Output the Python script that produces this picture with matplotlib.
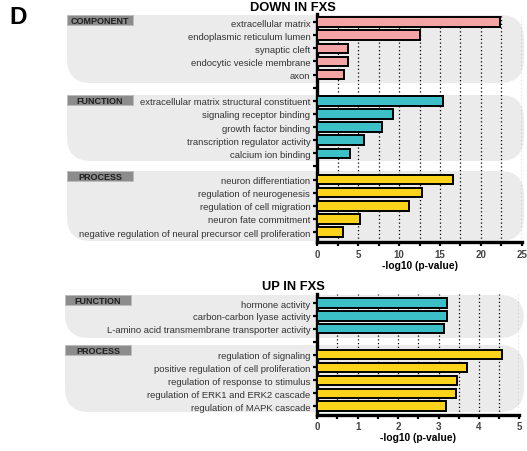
import matplotlib
matplotlib.use('Agg')
import matplotlib.pyplot as plt
from matplotlib.patches import FancyBboxPatch, Rectangle
import numpy as np

plt.rcParams['font.family'] = ['Liberation Sans', 'DejaVu Sans']

# GO terms down-regulated in FXS
down_component = ['extracellular matrix', 'endoplasmic reticulum lumen', 'synaptic cleft',
                  'endocytic vesicle membrane', 'axon']
down_component_vals = [22.3, 12.5, 3.8, 3.7, 3.3]
down_function = ['extracellular matrix structural constituent', 'signaling receptor binding',
                 'growth factor binding', 'transcription regulator activity', 'calcium ion binding']
down_function_vals = [15.4, 9.2, 7.9, 5.7, 4.0]
down_process = ['neuron differentiation', 'regulation of neurogenesis', 'regulation of cell migration',
                'neuron fate commitment', 'negative regulation of neural precursor cell proliferation']
down_process_vals = [16.6, 12.8, 11.2, 5.2, 3.2]

# GO terms up-regulated in FXS
up_function = ['hormone activity', 'carbon-carbon lyase activity',
               'L-amino acid transmembrane transporter activity']
up_function_vals = [3.22, 3.22, 3.14]
up_process = ['regulation of signaling', 'positive regulation of cell proliferation',
              'regulation of response to stimulus', 'regulation of ERK1 and ERK2 cascade',
              'regulation of MAPK cascade']
up_process_vals = [4.56, 3.70, 3.45, 3.43, 3.18]

PINK = '#f4a4a4'
TEAL = '#3cbfc6'
YELLOW = '#fcd31b'
BG = '#ebebeb'

W, H = 527, 452
fig = plt.figure(figsize=(W / 100, H / 100), dpi=100)

# pixel-space canvas for the grey group bands and headers
bg = fig.add_axes([0, 0, 1, 1], zorder=0)
bg.set_xlim(0, W)
bg.set_ylim(H, 0)
bg.axis('off')


def band(y0, y1, x0=67, x1=524, r=24):
    bg.add_patch(FancyBboxPatch((x0, y0), x1 - x0, y1 - y0,
                                boxstyle='round,pad=0,rounding_size=%d' % r,
                                fc=BG, ec='none', mutation_aspect=1))
    bg.add_patch(Rectangle((x0, y0), r, r, fc=BG, ec='none'))


def header(x, y, text, w=66):
    bg.add_patch(Rectangle((x, y), w, 10, fc='#8c8c8c', ec='#bdbdbd', lw=0.6, zorder=3))
    bg.text(x + w / 2, y + 5.3, text, ha='center', va='center', fontsize=6.5,
            fontweight='bold', color='#1e1e1e', zorder=4)


band(16, 84)
band(96, 162)
band(172, 242)
band(296, 339, x0=65)
band(346, 413, x0=65)

header(67, 16, 'COMPONENT')
header(67, 96, 'FUNCTION')
header(67, 172, 'PROCESS')
header(65, 296, 'FUNCTION')
header(65, 346, 'PROCESS')

bg.text(9, 17, 'D', fontsize=17.5, fontweight='bold', va='center', ha='left')
bg.text(293, 8, 'DOWN IN FXS', fontsize=9.3, fontweight='bold', ha='center', va='center')
bg.text(293, 287, 'UP IN FXS', fontsize=9.3, fontweight='bold', ha='center', va='center')


def panel(rect_px, groups, xmax, major, minor, ylim):
    x0, x1, ytop, ybot = rect_px
    ax = fig.add_axes([x0 / W, 1 - ybot / H, (x1 - x0) / W, (ybot - ytop) / H], zorder=2)
    ax.patch.set_visible(False)
    labels, vals, cols = [], [], []
    for i, (names, v, c) in enumerate(groups):
        if i > 0:
            labels.append('')
            vals.append(0)
            cols.append('none')
        labels += names
        vals += v
        cols += [c] * len(v)
    pos = np.arange(len(labels))
    keep = [i for i, l in enumerate(labels) if l]
    ax.barh(pos[keep], np.array(vals)[keep], height=0.72, color=np.array(cols)[keep],
            edgecolor='black', lw=1.4, zorder=3)
    ax.set_yticks(pos)
    ax.set_yticklabels(labels, fontsize=6.8, color='#333333')
    ax.set_ylim(*ylim)
    ax.set_xlim(0, xmax)
    ax.set_xticks(np.arange(0, xmax + 0.01, major))
    ax.set_xticks(np.arange(0, xmax + 0.01, minor), minor=True)
    ax.set_xticklabels([('%g' % t) for t in np.arange(0, xmax + 0.01, major)],
                       fontsize=7, fontweight='bold', color='#444444')
    ax.tick_params(axis='both', which='both', direction='out', length=3, width=1.6, pad=2)
    ax.tick_params(axis='x', which='major', pad=1.5)
    ax.grid(axis='x', which='both', linestyle=(0, (1, 2)), color='black', lw=0.9, zorder=1)
    ax.set_axisbelow(True)
    for s in ['top', 'right']:
        ax.spines[s].set_visible(False)
    for s in ['left', 'bottom']:
        ax.spines[s].set_linewidth(2.4)
    ax.set_xlabel('-log10 (p-value)', fontsize=7.4, fontweight='bold', labelpad=1)
    return ax


panel((317.3, 521.7, 15, 243.3),
      [(down_component, down_component_vals, PINK),
       (down_function, down_function_vals, TEAL),
       (down_process, down_process_vals, YELLOW)],
      25, 5, 2.5, (16.78, -0.61))

panel((317.3, 519.3, 295, 415.7),
      [(up_function, up_function_vals, TEAL),
       (up_process, up_process_vals, YELLOW)],
      5, 1, 0.5, (8.67, -0.7))

fig.savefig('out.png', dpi=100)
